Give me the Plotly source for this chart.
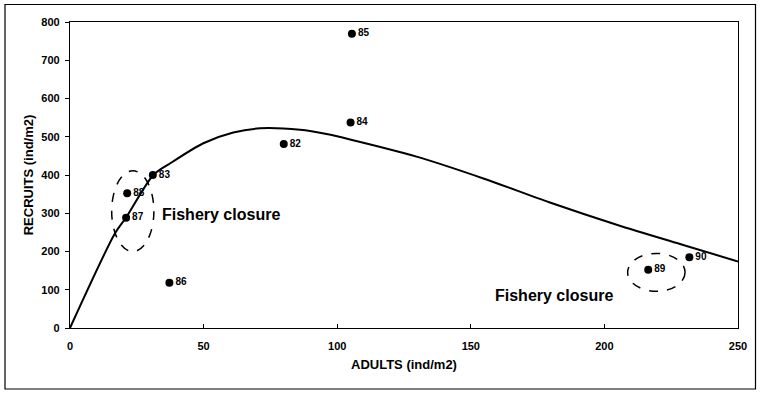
import plotly.graph_objects as go

# Observed stock-recruitment data (year labels)
years = ["82", "83", "84", "85", "86", "87", "88", "89", "90"]
adults = [80, 31, 105, 105.5, 37.2, 21, 21.4, 216.4, 231.8]
recruits = [481, 400, 537, 769, 118, 288, 352, 152, 185]

# Fitted curve
curve_x = [0, 16.8, 21, 31.2, 37.4, 49.9, 61.1, 71.1, 86.1, 96, 104.8, 129.7, 154.7, 179.6, 204.6, 229.5, 250]
curve_y = [0, 247, 289, 400, 430, 483, 511, 522, 518, 507, 493, 448, 391, 328, 270, 217, 174]

# Fishery closure ellipses: [x0, x1, y0, y1]
ellipse_left = [15.6, 31.4, 200, 411]
ellipse_right = [208.7, 230.2, 96, 195]

closure_label = "Fishery closure"
closure_pos = [(33.6, 297), (158.3, 86)]

x_ticks = [0, 50, 100, 150, 200, 250]
y_ticks = [0, 100, 200, 300, 400, 500, 600, 700, 800]

FONT = "Liberation Sans, Arial, sans-serif"

fig = go.Figure()
fig.add_trace(go.Scatter(
    x=curve_x, y=curve_y, mode="lines", line=dict(color="black", width=2, shape="spline", smoothing=0.8),
    hoverinfo="skip", showlegend=False))
fig.add_trace(go.Scatter(
    x=adults, y=recruits, mode="markers+text", text=years, textposition="middle right",
    marker=dict(color="black", size=8),
    textfont=dict(family=FONT, size=10, color="black", weight="bold"),
    showlegend=False))

for e in (ellipse_left, ellipse_right):
    fig.add_shape(type="circle", xref="x", yref="y", x0=e[0], x1=e[1], y0=e[2], y1=e[3],
                  line=dict(color="black", width=1.5, dash="dash"))

for (tx, ty) in closure_pos:
    fig.add_annotation(x=tx, y=ty, text=closure_label, showarrow=False, xanchor="left", yanchor="middle",
                       font=dict(family=FONT, size=16, color="black", weight="bold"))

# outer frame
fig.add_shape(type="rect", xref="paper", yref="paper", x0=-0.0973, x1=1.0262, y0=-0.1993, y1=1.0572,
              line=dict(color="black", width=1.2))

fig.update_layout(
    width=760, height=393, margin=dict(l=70, r=22, t=22, b=65),
    paper_bgcolor="white", plot_bgcolor="white",
    font=dict(family=FONT, color="black"),
    xaxis=dict(range=[0, 250], tickvals=x_ticks, ticks="inside", ticklen=4, tickcolor="black",
               showline=True, linecolor="black", linewidth=1.2, mirror=True, showgrid=False, zeroline=False,
               tickfont=dict(family=FONT, size=11, weight="bold"), ticklabelstandoff=8,
               title=dict(text="ADULTS (ind/m2)", font=dict(family=FONT, size=13, weight="bold"), standoff=8)),
    yaxis=dict(range=[0, 800], tickvals=y_ticks, ticks="outside", ticklen=4, tickcolor="black",
               showline=True, linecolor="black", linewidth=1.2, mirror=True, showgrid=False, zeroline=False,
               tickfont=dict(family=FONT, size=11, weight="bold"), ticklabelstandoff=3,
               title=dict(text="RECRUITS (ind/m2)", font=dict(family=FONT, size=13, weight="bold"), standoff=4)),
)

fig.write_html("out.html", config={"displayModeBar": False},
               post_script="document.body.style.margin='0';")
